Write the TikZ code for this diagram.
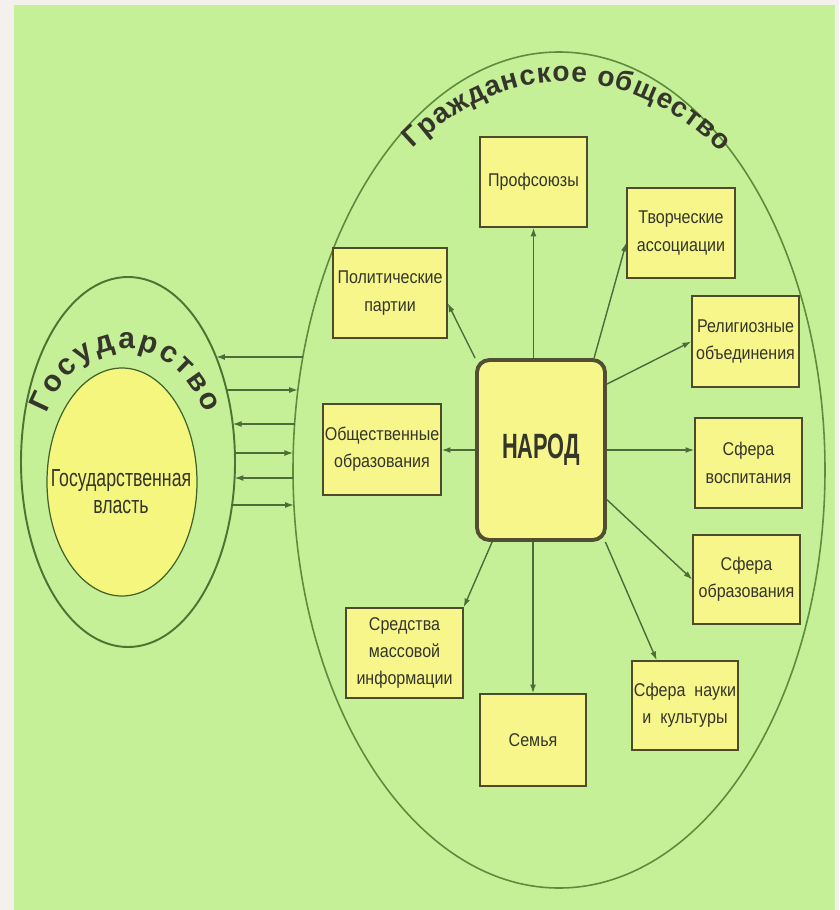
\documentclass[tikz,border=0pt]{standalone}
\usepackage{fontspec}
\setmainfont{Liberation Sans}
\newfontfamily\boxfont[FakeStretch=0.87]{Liberation Sans}
\newfontfamily\powerfont[FakeStretch=0.72]{Liberation Sans}
\newfontfamily\narodfont[FakeStretch=0.62]{Liberation Sans Bold}
\newfontfamily\arcfont{Liberation Sans Bold}
\usetikzlibrary{arrows.meta,decorations.text}
\definecolor{margin}{HTML}{F4F1EC}
\definecolor{bg}{HTML}{C6F098}
\definecolor{ring}{HTML}{5E8C3E}
\definecolor{statering}{HTML}{4C7432}
\definecolor{boxfill}{HTML}{F6F68A}
\definecolor{boxline}{HTML}{4D4B2C}
\definecolor{narodline}{HTML}{514E33}
\definecolor{powerfill}{HTML}{F4F67E}
\definecolor{arrowcol}{HTML}{4E6B3A}
\definecolor{txt}{HTML}{35352B}

\begin{document}
\begin{tikzpicture}[x=0.02cm,y=-0.02cm,
    box/.style={draw=boxline,fill=boxfill,line width=0.8pt,inner sep=0pt,align=center,
        minimum width=2.14cm,minimum height=1.8cm,text=txt,
        font=\boxfont\fontsize{10.5}{15.5}\selectfont},
    link/.style={draw=arrowcol,line width=0.8pt,-{Latex[length=5pt,width=3.4pt]}}]
    \useasboundingbox(0,0)rectangle(839,910);
    \fill[margin](0,0)rectangle(839,910);
    \fill[bg](14,5)rectangle(835,910);
    \draw[ring,line width=0.9pt](559,470)ellipse[x radius=266,y radius=418];
    \draw[statering,line width=1.1pt](128,462)ellipse[x radius=107,y radius=185];
    \draw[draw=ring!70!black,fill=powerfill,line width=0.7pt](122,482)ellipse[x radius=75,y radius=114];
    \node[text=txt,align=center,font=\powerfont\fontsize{14}{15.5}\selectfont](power)at(121,492){Государственная\\власть};
    \path[decorate,decoration={text along path,text align={fit to path},
        text={|\arcfont\fontsize{17}{17}\selectfont\color{txt}|Государство}}]
        (46.5,413.2)arc[start angle=208,end angle=332,x radius=90,y radius=121];
    \path[decorate,decoration={text along path,text align={fit to path},
        text={|\arcfont\fontsize{16}{16}\selectfont\color{txt}|Гражданское общество}}]
        (412.9,148.7)arc[start angle=236,end angle=305,x radius=272,y radius=392];
    \node[draw=narodline,fill=boxfill,line width=2.2pt,rounded corners=7pt,minimum width=2.56cm,
        minimum height=3.6cm,text=txt,font=\narodfont\fontsize{20}{20}\selectfont](narod)at(541,450){НАРОД};
    \node[box](prof)at(533.5,182){Профсоюзы};
    \node[box,minimum width=2.16cm](tvor)at(681,233){Творческие\\ассоциации};
    \node[box,minimum width=2.28cm](polit)at(390,293){Политические\\партии};
    \node[box,minimum height=1.82cm](relig)at(745.5,341.5){Религиозные\\объединения};
    \node[box,minimum width=2.36cm,minimum height=1.82cm](obsh)at(382,449.5){Общественные\\образования};
    \node[box](vosp)at(748.5,463){Сфера\\воспитания};
    \node[box,minimum height=1.78cm](obraz)at(746.5,579.5){Сфера\\образования};
    \node[box,minimum width=2.34cm](smi)at(404.5,653){Средства\\массовой\\информации};
    \node[box,minimum width=2.12cm,minimum height=1.84cm](semya)at(533,740){Семья};
    \node[box,minimum width=2.12cm,minimum height=1.78cm](nauka)at(685,705.5){Сфера~~науки\\и~~культуры};
    \draw[link](narod.north-|prof.south)--(prof.south);
    \draw[link](narod.north west)--(polit.-10);
    \draw[link](narod.60)--(tvor.190);
    \draw[link](narod.45)--(relig.west);
    \draw[link](narod.west)--(narod.west-|obsh.east);
    \draw[link](narod.east)--(narod.east-|vosp.west);
    \draw[link](narod.-37)--(obraz.west);
    \draw[link](narod.-55)--(nauka.122);
    \draw[link](narod.south-|semya.north)--(semya.north);
    \draw[link](narod.-118)--(smi.north east);
    \foreach \i/\yy in {1/357,2/390,3/424,4/453,5/478,6/505}{
        \pgfmathsetmacro\xs{128+107*sqrt(1-((\yy-462)/185)^2)}
        \pgfmathsetmacro\xc{559-266*sqrt(1-((\yy-470)/418)^2)}
        \coordinate(s\i)at(\xs,\yy);
        \coordinate(c\i)at(\xc,\yy);
    }
    \foreach \a/\b in {c1/s1,s2/c2,c3/s3,s4/c4,c5/s5,s6/c6}
        \draw[link](\a)--(\b);
\end{tikzpicture}
\end{document}
